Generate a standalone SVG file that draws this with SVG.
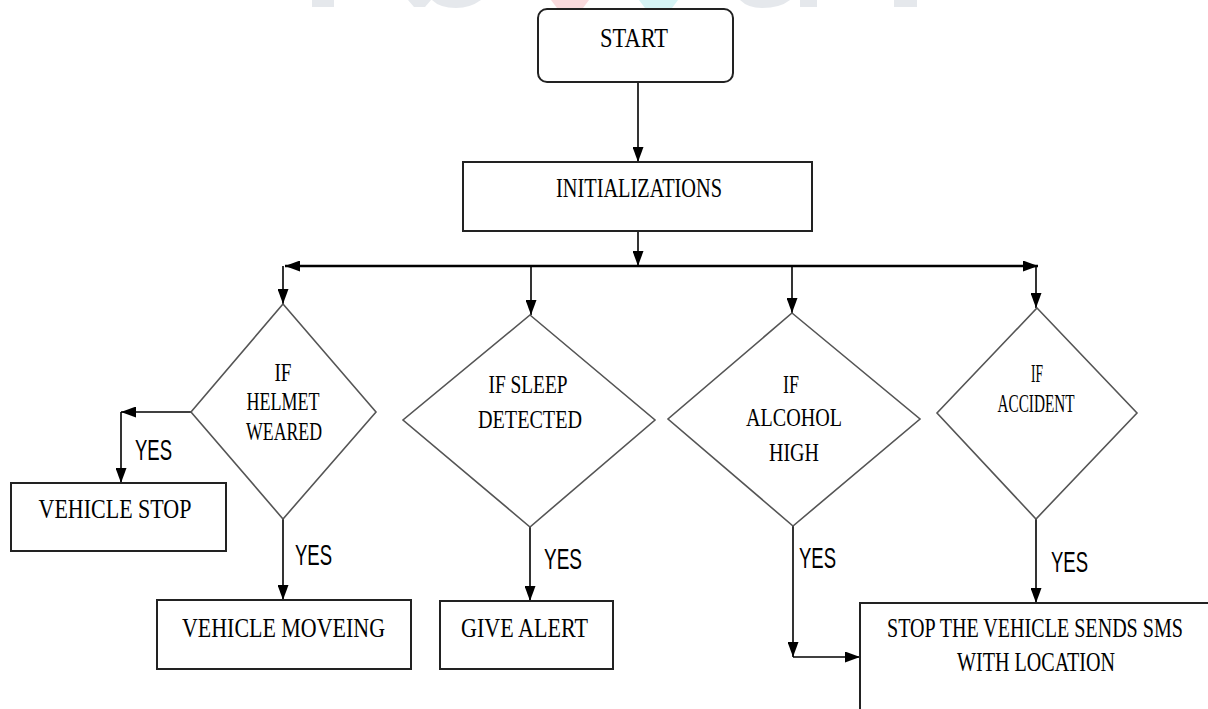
<svg xmlns="http://www.w3.org/2000/svg" width="1208" height="709" viewBox="0 0 1208 709">
<style>
.box{fill:#fff;stroke:#222;stroke-width:2}
.dia{fill:#fff;stroke:#555;stroke-width:1.6}
.ln{fill:none;stroke:#000;stroke-width:1.6}
.bus{fill:none;stroke:#000;stroke-width:2.4}
.t{font-family:"Liberation Serif",serif;font-size:27px;fill:#000;text-anchor:middle}
.d{font-family:"Liberation Serif",serif;font-size:25px;fill:#000;text-anchor:middle}
.y{font-family:"Liberation Sans",sans-serif;font-size:30px;fill:#000;text-anchor:start}
.wm{stroke:none}
</style>
<defs>
<marker id="ah" markerUnits="userSpaceOnUse" markerWidth="15" markerHeight="11" refX="15" refY="5.5" orient="auto-start-reverse">
<path d="M0,0 L15,5.5 L0,11 z" fill="#000"/>
</marker>
</defs>
<g id="watermark" opacity="0.8">
<rect class="wm" x="312" y="0" width="22" height="7" fill="#dfe3e8"/>
<path class="wm" d="M408,0 L431,0 L425,7 L414,7 z" fill="#dfe3e8"/>
<path class="wm" d="M432,0 L481,0 Q470,8 456,8 Q440,8 432,0 z" fill="#dfe3e8"/>
<path class="wm" d="M551,0 L589,0 L583,8 L557,8 z" fill="#f9d3d6"/>
<path class="wm" d="M639,0 L678,0 L672,8 L645,8 z" fill="#ccf2f3"/>
<path class="wm" d="M740,0 L790,0 Q780,8 762,8 Q748,8 740,0 z" fill="#dfe3e8"/>
<rect class="wm" x="800" y="0" width="17" height="7" fill="#dfe3e8"/>
<rect class="wm" x="894" y="0" width="23" height="7" fill="#dfe3e8"/>
</g>
<g id="connectors">
<line class="ln" x1="638" y1="82" x2="638" y2="162" marker-end="url(#ah)"/>
<line class="ln" x1="638" y1="231" x2="638" y2="266" marker-end="url(#ah)"/>
<line class="bus" x1="285" y1="266" x2="1038" y2="266" marker-start="url(#ah)" marker-end="url(#ah)"/>
<line class="ln" x1="283" y1="266" x2="283" y2="304" marker-end="url(#ah)"/>
<line class="ln" x1="531" y1="266" x2="531" y2="315" marker-end="url(#ah)"/>
<line class="ln" x1="792" y1="266" x2="792" y2="313" marker-end="url(#ah)"/>
<line class="ln" x1="1036" y1="266" x2="1036" y2="308" marker-end="url(#ah)"/>
<line class="ln" x1="191" y1="412" x2="121" y2="412" marker-end="url(#ah)"/>
<line class="ln" x1="121" y1="412" x2="121" y2="483" marker-end="url(#ah)"/>
<line class="ln" x1="283" y1="519" x2="283" y2="600" marker-end="url(#ah)"/>
<line class="ln" x1="530" y1="527" x2="530" y2="601" marker-end="url(#ah)"/>
<line class="ln" x1="793" y1="526" x2="793" y2="657" marker-end="url(#ah)"/>
<line class="ln" x1="793" y1="657" x2="860" y2="657" marker-end="url(#ah)"/>
<line class="ln" x1="1036" y1="519" x2="1036" y2="603" marker-end="url(#ah)"/>
<text class="y" x="135" y="460" textLength="37" lengthAdjust="spacingAndGlyphs">YES</text>
<text class="y" x="295" y="565" textLength="37" lengthAdjust="spacingAndGlyphs">YES</text>
<text class="y" x="544" y="569" textLength="38" lengthAdjust="spacingAndGlyphs">YES</text>
<text class="y" x="799" y="568" textLength="37" lengthAdjust="spacingAndGlyphs">YES</text>
<text class="y" x="1051" y="572" textLength="37" lengthAdjust="spacingAndGlyphs">YES</text>
</g>
<g id="start">
<rect class="box" x="538" y="9" width="195" height="73" rx="9"/>
<text class="t" x="634" y="47" textLength="68" lengthAdjust="spacingAndGlyphs">START</text>
</g>
<g id="init">
<rect class="box" x="463" y="162" width="349" height="69"/>
<text class="t" x="639" y="197" textLength="166" lengthAdjust="spacingAndGlyphs">INITIALIZATIONS</text>
</g>
<g id="helmet">
<polygon class="dia" points="283,304 376,412 283,519 191,412"/>
<text class="d" x="283" y="381" textLength="17" lengthAdjust="spacingAndGlyphs">IF</text>
<text class="d" x="283" y="410" textLength="73" lengthAdjust="spacingAndGlyphs">HELMET</text>
<text class="d" x="284" y="440" textLength="76" lengthAdjust="spacingAndGlyphs">WEARED</text>
</g>
<g id="sleep">
<polygon class="dia" points="530,315 655,420 530,527 403,420"/>
<text class="d" x="528" y="393" textLength="79" lengthAdjust="spacingAndGlyphs">IF SLEEP</text>
<text class="d" x="530" y="428" textLength="104" lengthAdjust="spacingAndGlyphs">DETECTED</text>
</g>
<g id="alcohol">
<polygon class="dia" points="792,313 920,419 793,526 668,419"/>
<text class="d" x="791" y="393" textLength="16" lengthAdjust="spacingAndGlyphs">IF</text>
<text class="d" x="794" y="426" textLength="96" lengthAdjust="spacingAndGlyphs">ALCOHOL</text>
<text class="d" x="794" y="461" textLength="50" lengthAdjust="spacingAndGlyphs">HIGH</text>
</g>
<g id="accident">
<polygon class="dia" points="1037,308 1137,413 1036,519 937,413"/>
<text class="d" x="1037" y="382" font-size="18" textLength="12" lengthAdjust="spacingAndGlyphs">IF</text>
<text class="d" x="1036" y="412" font-size="20" textLength="77" lengthAdjust="spacingAndGlyphs">ACCIDENT</text>
</g>
<g id="vehicle-stop">
<rect class="box" x="11" y="483" width="215" height="68"/>
<text class="t" x="115" y="518" textLength="153" lengthAdjust="spacingAndGlyphs">VEHICLE STOP</text>
</g>
<g id="vehicle-moveing">
<rect class="box" x="157" y="600" width="254" height="69"/>
<text class="t" x="283.5" y="637" textLength="203" lengthAdjust="spacingAndGlyphs">VEHICLE MOVEING</text>
</g>
<g id="give-alert">
<rect class="box" x="440" y="601" width="173" height="68"/>
<text class="t" x="524.5" y="637" textLength="127" lengthAdjust="spacingAndGlyphs">GIVE ALERT</text>
</g>
<g id="stop-sms">
<rect class="box" x="860" y="603" width="352" height="120"/>
<text class="t" x="1035" y="637" textLength="296" lengthAdjust="spacingAndGlyphs">STOP THE VEHICLE SENDS SMS</text>
<text class="t" x="1036" y="671" textLength="158" lengthAdjust="spacingAndGlyphs">WITH LOCATION</text>
</g>
</svg>
